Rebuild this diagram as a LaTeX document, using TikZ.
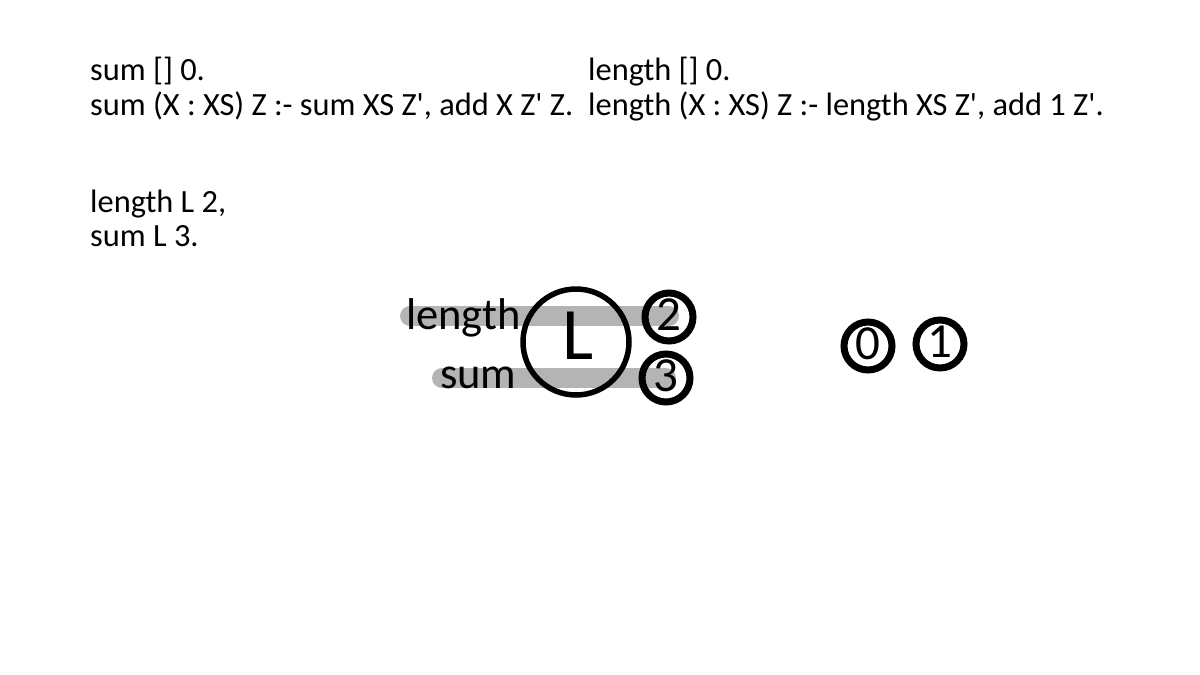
\documentclass[tikz,border=0pt]{standalone}
\usepackage{fontspec}
\setmainfont{Carlito}
\usetikzlibrary{backgrounds}
\definecolor{bargray}{HTML}{B4B4B4}
\newcommand{\q}{\textquotesingle}
\tikzset{
  code/.style={anchor=base west, inner sep=0pt, font=\fontsize{32.4}{38}\selectfont},
  lab/.style={anchor=base west, inner sep=0pt, font=\fontsize{44.5}{52}\selectfont},
  ring/.style={circle, draw=black, line width=7pt, inner sep=0pt, minimum size=48pt, text depth=5pt, font=\fontsize{49}{54}\selectfont},
  bigring/.style={circle, draw=black, line width=5.5pt, inner sep=0pt, minimum size=106pt},
  bigtext/.style={inner sep=0pt, font=\fontsize{74}{80}\selectfont},
  bar/.style={draw=bargray, line width=20pt, line cap=round}
}
\begin{document}
\begin{tikzpicture}[x=1pt,y=-1pt]
\useasboundingbox (0,0) rectangle (1200,675);
% code text
\node[code] (s1) at (90,80) {sum [] 0.};
\node[code] (s2) at (90,115) {sum (X : XS) Z :- sum XS Z\q, add X Z\q{} Z.};
\node[code] (l1) at (588,80) {length [] 0.};
\node[code] (l2) at (588,115) {length (X : XS) Z :- length XS Z\q, add 1 Z\q.};
\node[code] (q1) at (90,212) {length L 2,};
\node[code] (q2) at (90,246) {sum L 3.};
% diagram
\node[lab] (lenlab) at (406,329) {length};
\node[lab] (sumlab) at (440,388) {sum};
\node[bigring] (L) at (576,342) {};
\node[bigtext] (Ltext) at (578,336) {L};
\node[ring] (n2) at (669,317) {2};
\node[ring] (n3) at (666,378) {3};
\node[ring] (n0) at (868,346) {0};
\node[ring] (n1) at (940,344) {1};
\coordinate (b1) at (410,316);
\coordinate (b2) at (442,378);
\begin{scope}[on background layer]
\draw[bar] (b1) -- (b1 -| n2.center);
\draw[bar] (b2) -- (b2 -| n3.center);
\end{scope}
\end{tikzpicture}
\end{document}
